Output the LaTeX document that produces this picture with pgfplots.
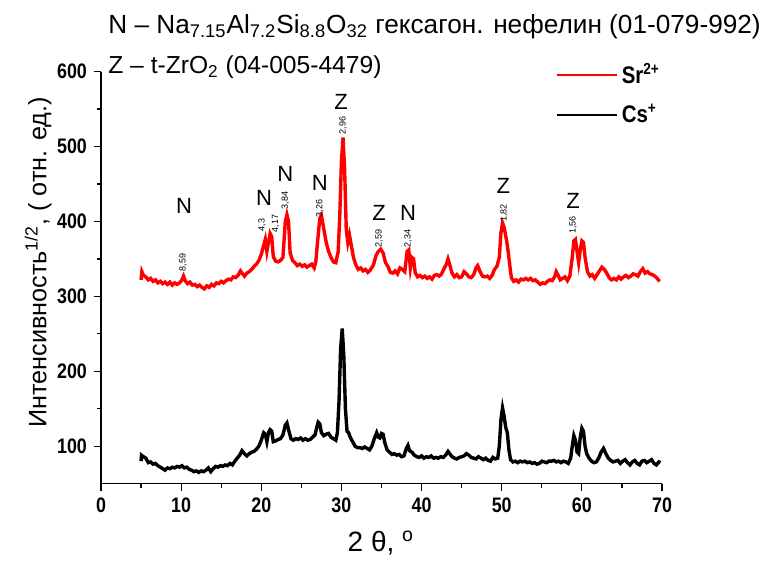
\documentclass[border=0pt]{standalone}
\usepackage{pgfplots}
\pgfplotsset{compat=1.18}
\usepackage{fontspec}
\setmainfont{Liberation Sans}
\newfontfamily\narrowfont[FakeStretch=0.85]{Liberation Sans}

\pgfplotstableread{
x y
5.0 322
5.1 333
5.3 328
5.6 326
5.9 322
6.2 324
6.5 320
6.8 322
7.1 318
7.4 320
7.7 317
8.0 319
8.3 316
8.6 319
8.9 315
9.2 318
9.5 316
9.8 318
10.1 322
10.3 327
10.5 321
10.8 317
11.1 319
11.4 315
11.7 316
12.0 313
12.3 315
12.6 312
12.9 310
13.2 314
13.5 312
13.8 316
14.1 314
14.4 318
14.7 317
15.0 320
15.3 318
15.6 321
15.9 323
16.2 322
16.5 326
16.8 325
17.1 328
17.4 334
17.6 331
17.9 327
18.2 331
18.5 333
18.8 336
19.1 340
19.4 343
19.7 348
20.0 356
20.3 368
20.5 376
20.7 360
20.9 372
21.1 384
21.3 380
21.5 353
21.8 347
22.1 346
22.4 348
22.7 352
23.0 400
23.2 409
23.4 400
23.6 358
23.9 348
24.2 345
24.5 341
24.8 343
25.1 340
25.4 342
25.7 339
26.0 341
26.3 343
26.6 338
26.8 346
27.0 370
27.3 404
27.5 408
27.8 390
28.1 372
28.4 360
28.7 352
29.0 346
29.3 345
29.6 360
29.8 410
30.0 480
30.2 512
30.4 470
30.6 390
30.8 372
31.0 382
31.2 370
31.5 352
31.8 342
32.1 336
32.4 338
32.7 334
33.0 336
33.3 332
33.6 335
34.0 342
34.3 354
34.6 360
34.9 363
35.2 358
35.5 345
35.8 340
36.1 332
36.4 331
36.7 334
37.0 330
37.3 338
37.6 336
37.9 333
38.2 360
38.4 362
38.6 338
38.8 352
39.0 350
39.2 332
39.5 326
39.8 328
40.1 325
40.4 327
40.7 324
41.0 326
41.3 323
41.6 328
41.9 329
42.2 327
42.5 330
42.8 337
43.1 343
43.3 350
43.5 343
43.8 331
44.1 326
44.4 329
44.7 325
45.0 326
45.3 333
45.6 330
45.9 326
46.2 325
46.5 329
46.8 338
47.0 341
47.3 333
47.6 327
47.9 326
48.2 327
48.5 324
48.8 328
49.1 336
49.4 340
49.7 352
49.9 385
50.1 398
50.3 392
50.6 375
50.8 360
51.0 342
51.2 325
51.5 320
51.8 322
52.1 319
52.4 323
52.7 322
53.0 324
53.3 322
53.6 324
53.9 321
54.2 322
54.5 319
54.8 316
55.1 318
55.4 317
55.7 320
56.0 322
56.3 321
56.6 326
56.8 333
57.0 329
57.3 322
57.6 324
57.9 326
58.2 321
58.5 327
58.8 352
59.0 374
59.2 376
59.4 360
59.6 345
59.8 362
60.0 374
60.2 372
60.4 352
60.7 333
61.0 327
61.3 329
61.6 324
61.9 329
62.2 334
62.5 339
62.8 336
63.1 331
63.4 325
63.7 322
64.0 324
64.3 322
64.6 326
64.9 323
65.2 326
65.5 328
65.8 325
66.1 327
66.4 330
66.7 329
67.0 327
67.3 333
67.6 337
67.9 331
68.2 333
68.5 330
68.8 329
69.1 327
69.4 324
69.7 320
}\srdata

\pgfplotstableread{
x y
5.0 80
5.05 88
5.3 86
5.6 84
5.9 78
6.2 79
6.5 76
6.8 77
7.1 74
7.4 72
7.7 70
8.0 68
8.3 71
8.6 70
8.9 72
9.2 71
9.5 73
9.8 72
10.1 74
10.4 71
10.7 72
11.0 69
11.3 68
11.6 66
11.9 67
12.2 65
12.5 67
12.8 66
13.1 68
13.4 71
13.7 66
14.0 70
14.3 73
14.6 72
14.9 74
15.2 73
15.5 75
15.8 74
16.1 77
16.4 75
16.7 80
17.0 84
17.3 88
17.6 94
17.9 90
18.2 87
18.5 90
18.8 92
19.1 93
19.4 96
19.7 100
20.0 108
20.3 118
20.5 116
20.7 106
20.9 118
21.1 122
21.3 120
21.5 106
21.8 107
22.1 109
22.4 110
22.7 115
23.0 128
23.2 131
23.4 122
23.7 110
24.0 108
24.3 110
24.6 109
24.9 111
25.2 108
25.5 110
25.8 108
26.1 109
26.4 112
26.7 115
26.9 124
27.1 132
27.3 130
27.5 118
27.8 114
28.1 116
28.4 117
28.7 112
29.0 110
29.3 108
29.5 118
29.7 160
29.9 230
30.1 257
30.3 220
30.5 150
30.7 120
30.9 118
31.1 112
31.4 106
31.7 100
32.0 98
32.3 98
32.6 97
32.9 99
33.2 97
33.5 95
33.8 100
34.1 110
34.4 118
34.6 112
34.8 111
35.0 117
35.2 116
35.4 105
35.7 95
36.0 92
36.3 89
36.6 90
36.9 88
37.2 89
37.5 86
37.8 87
38.1 97
38.3 101
38.5 94
38.8 92
39.1 88
39.4 86
39.7 85
40.0 87
40.3 84
40.6 86
40.9 85
41.2 87
41.5 84
41.8 85
42.1 84
42.4 86
42.7 85
43.0 88
43.3 93
43.5 90
43.8 86
44.1 84
44.4 83
44.7 85
45.0 86
45.3 87
45.6 90
45.9 88
46.2 85
46.5 84
46.8 83
47.1 86
47.4 84
47.7 82
48.0 84
48.3 81
48.6 80
48.9 85
49.2 83
49.5 84
49.7 100
49.9 135
50.1 151
50.3 140
50.5 125
50.7 118
50.9 95
51.1 82
51.4 79
51.7 80
52.0 78
52.3 80
52.6 79
52.9 80
53.2 78
53.5 79
53.8 77
54.1 78
54.4 76
54.7 77
55.0 80
55.3 79
55.6 78
55.9 80
56.2 80
56.5 81
56.8 79
57.1 80
57.4 78
57.7 80
58.0 79
58.3 77
58.6 84
58.8 100
59.0 114
59.2 108
59.4 92
59.6 90
59.8 112
60.0 124
60.2 120
60.4 100
60.6 90
60.9 84
61.2 80
61.5 78
61.8 79
62.1 84
62.4 92
62.7 97
63.0 90
63.3 84
63.6 81
63.9 79
64.2 80
64.5 81
64.8 77
65.1 80
65.4 82
65.7 78
66.0 75
66.3 79
66.6 81
66.9 77
67.2 75
67.5 80
67.8 81
68.1 78
68.4 80
68.7 82
69.0 77
69.3 75
69.6 79
69.8 78
}\csdata

\begin{document}
\begin{tikzpicture}
\begin{axis}[
    scale only axis,
    width=280.5pt, height=206pt,
    xmin=0, xmax=70, ymin=50, ymax=600,
    axis x line*=bottom, axis y line*=left,
    axis line style={-, line width=0.7pt},
    xtick={0,10,...,70}, ytick={100,200,...,600},
    minor x tick num=1, minor y tick num=1,
    tick align=outside,
    major tick length=3.5pt, minor tick length=2pt,
    every tick/.style={black, line width=0.6pt},
    /pgf/number format/assume math mode=true,
    ticklabel style={font=\narrowfont\bfseries\fontsize{10.5}{12}\selectfont},
    xlabel={2 θ, \textsuperscript{o}},
    xlabel style={font=\fontsize{14}{16}\selectfont, at={(axis description cs:0.499,-0.144)}, anchor=center},
    ylabel={Интенсивность\textsuperscript{1/2}, ( отн. ед.)},
    ylabel style={font=\fontsize{12.6}{14}\selectfont, at={(axis description cs:-0.112,0.537)}, anchor=center},
    clip=false,
    legend style={at={(axis description cs:0.81,1.03)}, anchor=north west,
        draw=none, fill=none, inner sep=0pt, row sep=5pt,
        font=\narrowfont\bfseries\fontsize{12}{13}\selectfont},
    legend cell align=left,
    legend image code/.code={\draw[#1, line width=1pt] (0pt,0pt) -- (30pt,0pt);},
]
\addplot[red, line width=1.7pt] table[x=x, y=y] {\srdata};
\addlegendentry{Sr\textsuperscript{2+}}
\addplot[black, line width=1.7pt] table[x=x, y=y] {\csdata};
\addlegendentry{Cs\textsuperscript{+}}

% phase labels
\begin{scope}[every node/.style={font=\fontsize{11}{12}\selectfont, anchor=center}]
\node at (axis cs:10.36,421) {N};
\node at (axis cs:20.34,432) {N};
\node at (axis cs:23.0,464) {N};
\node at (axis cs:27.3,451) {N};
\node at (axis cs:29.95,559) {Z};
\node at (axis cs:34.7,411) {Z};
\node at (axis cs:38.3,411) {N};
\node at (axis cs:50.2,448) {Z};
\node at (axis cs:58.9,428) {Z};
\end{scope}
\begin{scope}[every node/.style={font=\fontsize{4.5}{5}\selectfont, rotate=90, anchor=center, inner sep=0pt}]
\node at (axis cs:10.23,345) {8,59};
\node at (axis cs:20.1,395) {4,3};
\node at (axis cs:21.8,397) {4,17};
\node at (axis cs:23.0,428) {3,84};
\node at (axis cs:27.3,417) {3,26};
\node at (axis cs:30.2,528) {2,96};
\node at (axis cs:34.7,377) {2,59};
\node at (axis cs:38.3,377) {2,34};
\node at (axis cs:50.3,411) {1,82};
\node at (axis cs:58.9,395) {1,56};
\end{scope}

% header lines
\node[anchor=base west, inner sep=0pt, font=\fontsize{13.1}{15}\selectfont]
  at (axis description cs:0.0125,1.093)
  {N -- Na\textsubscript{7.15}Al\textsubscript{7.2}Si\textsubscript{8.8}O\textsubscript{32} гексагон. нефелин (01-079-992)};
\node[anchor=base west, inner sep=0pt, font=\fontsize{12.3}{14}\selectfont]
  at (axis description cs:0.0125,0.996)
  {Z -- t-ZrO\textsubscript{2} (04-005-4479)};

% page frame
\path (axis cs:-12.6,-46.9) rectangle (axis cs:82.85,695.6);
\end{axis}
\end{tikzpicture}
\end{document}
